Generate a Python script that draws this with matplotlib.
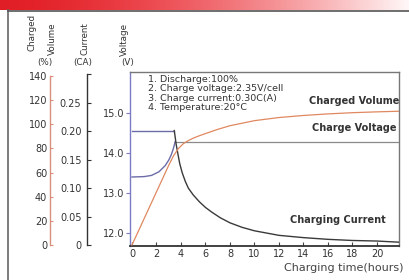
import numpy as np
import matplotlib
matplotlib.use("Agg")
import matplotlib.pyplot as plt

# ---------------- data ----------------
hours_vol = [0, 1, 2, 3, 3.4, 3.8, 4.2, 4.6, 5, 5.5, 6, 7, 8, 10, 12, 14, 16, 18, 20, 21.8]
charged_volume = [0, 22, 44, 66, 74, 80, 84, 86.5, 88.5, 90.5, 92.3, 95.8, 98.8, 103, 105.6, 107.3, 108.6, 109.6, 110.3, 110.8]

hours_cur = [0, 3.45, 3.5, 3.6, 3.75, 3.9, 4.1, 4.35, 4.6, 5.0, 5.5, 6, 6.5, 7.2, 8, 9, 10, 12, 14, 16, 18, 20, 21.8]
charge_current = [0.201, 0.201, 0.194, 0.178, 0.160, 0.143, 0.127, 0.112, 0.100, 0.088, 0.076, 0.066, 0.058, 0.048, 0.039, 0.031, 0.025, 0.017, 0.013, 0.010, 0.008, 0.007, 0.005]

hours_volt = [0, 1.0, 1.6, 2.2, 2.7, 3.0, 3.2, 3.35, 3.45, 3.52]
charge_voltage = [13.4, 13.41, 13.44, 13.53, 13.68, 13.82, 13.95, 14.08, 14.19, 14.28]
plateau_hours = [3.52, 21.8]
plateau_voltage = [14.28, 14.28]

x_ticks = [0, 2, 4, 6, 8, 10, 12, 14, 16, 18, 20]
volt_ticks = [12.0, 13.0, 14.0, 15.0]
cur_ticks = [0, 0.05, 0.10, 0.15, 0.20, 0.25, 0.30]
cur_labels = ["0", "0.05", "0.10", "0.15", "0.20", "0.25", ""]
vol_ticks = [0, 20, 40, 60, 80, 100, 120, 140]

notes = ["1. Discharge:100%", "2. Charge voltage:2.35V/cell",
         "3. Charge current:0.30C(A)", "4. Temperature:20\u00b0C"]

# ---------------- figure ----------------
W, H = 409, 280
fig = plt.figure(figsize=(W / 100, H / 100), dpi=100)
fig.patch.set_facecolor("white")

# red banner
bn = fig.add_axes([0, 1 - 10 / H, 1, 10 / H])
grad = np.linspace(0, 1, 256)
r = np.ones_like(grad)
g = 0.12 + 0.85 * grad ** 1.6
b = 0.15 + 0.82 * grad ** 1.6
img = np.dstack([r * (0.88 + 0.12 * grad), g, b])
bn.imshow(img, aspect="auto", extent=[0, 1, 0, 1])
bn.axis("off")

# frame lines
fig.add_artist(plt.Line2D([8 / W, 8 / W], [0, 1 - 10 / H], transform=fig.transFigure, color="#666666", lw=1.2))
fig.add_artist(plt.Line2D([8 / W, 1], [1 - 11 / H, 1 - 11 / H], transform=fig.transFigure, color="#555555", lw=1.2))

L, R, T, B = 130, 399, 72, 246
ax = fig.add_axes([L / W, 1 - B / H, (R - L) / W, (B - T) / H])
ax.set_xlim(-0.16, 21.8)
ax.set_ylim(11.675, 16.025)

for s in ["top", "right"]:
    ax.spines[s].set_color("#777777")
    ax.spines[s].set_linewidth(1.0)
ax.spines["bottom"].set_color("#333333")
ax.spines["bottom"].set_linewidth(1.3)
ax.spines["left"].set_color("#7c7cc4")
ax.spines["left"].set_linewidth(1.0)

ax.set_xticks(x_ticks)
ax.set_xticklabels([str(v) for v in x_ticks])
ax.tick_params(axis="x", direction="in", length=3, width=0.8, color="#444444",
               labelsize=7, labelcolor="#333333", pad=2)
ax.set_yticks(volt_ticks)
ax.set_yticklabels([f"{v:.1f}" for v in volt_ticks])
ax.tick_params(axis="y", direction="out", length=3, width=0.8, color="#7c7cc4",
               labelsize=7, labelcolor="#333333", pad=1)

# voltage
ax.plot(hours_volt, charge_voltage, color="#6c6ca8", lw=1.0)
ax.plot(plateau_hours, plateau_voltage, color="#8a8a8a", lw=0.9)

# current axis
axc = ax.twinx()
axc.set_ylim(-0.0017, 0.3038)
axc.yaxis.set_ticks_position("left")
axc.spines["left"].set_visible(True)
axc.spines["left"].set_position(("axes", (87 - L) / (R - L)))
axc.spines["left"].set_bounds(0, 0.30)
axc.spines["left"].set_color("#333333")
axc.spines["left"].set_linewidth(1.0)
for s in ["top", "right", "bottom"]:
    axc.spines[s].set_visible(False)
axc.set_yticks(cur_ticks)
axc.set_yticklabels(cur_labels)
axc.tick_params(axis="y", direction="in", length=3, width=0.8, color="#333333",
                labelsize=7, labelcolor="#333333", pad=4)
cur = np.array(charge_current)
hc = np.array(hours_cur)
axc.plot(hc[:2], cur[:2], color="#6c6ca8", lw=1.0)
axc.plot(hc[1:], cur[1:], color="#3a3a3a", lw=1.0)

# volume axis
axv = ax.twinx()
axv.set_ylim(-0.8, 143.3)
axv.yaxis.set_ticks_position("left")
axv.spines["left"].set_visible(True)
axv.spines["left"].set_position(("axes", (50 - L) / (R - L)))
axv.spines["left"].set_bounds(0, 140)
axv.spines["left"].set_color("#d8907c")
axv.spines["left"].set_linewidth(1.0)
for s in ["top", "right", "bottom"]:
    axv.spines[s].set_visible(False)
axv.set_yticks(vol_ticks)
axv.set_yticklabels([str(v) for v in vol_ticks])
axv.tick_params(axis="y", direction="in", length=2.5, width=0.8, color="#d8907c",
                labelsize=7, labelcolor="#333333", pad=2)
axv.plot(hours_vol, charged_volume, color="#e08860", lw=0.9)

# notes
for i, t in enumerate(notes):
    fig.text(148 / W, 1 - (79 + i * 9.6) / H, t, fontsize=6.8, family="DejaVu Sans",
             color="#333333", va="center", ha="left")

fig.text(399 / W, 1 - 101 / H, "Charged Volume", fontsize=7, fontweight="bold",
         color="#333333", ha="right", va="center")
fig.text(397 / W, 1 - 128 / H, "Charge Voltage", fontsize=7, fontweight="bold",
         color="#333333", ha="right", va="center")
fig.text(386 / W, 1 - 220 / H, "Charging Current", fontsize=7, fontweight="bold",
         color="#333333", ha="right", va="center")
fig.text(403 / W, 1 - 268 / H, "Charging time(hours)", fontsize=8,
         color="#444444", ha="right", va="center")

# axis titles
fig.text(32 / W, 1 - 32 / H, "Charged", rotation=90, fontsize=6.3, color="#333333", ha="center", va="center")
fig.text(52 / W, 1 - 39 / H, "Volume", rotation=90, fontsize=6.3, color="#333333", ha="center", va="center")
fig.text(45 / W, 1 - 62 / H, "(%)", fontsize=6.3, color="#333333", ha="center", va="center")
fig.text(85 / W, 1 - 39 / H, "Current", rotation=90, fontsize=6.3, color="#333333", ha="center", va="center")
fig.text(83 / W, 1 - 62 / H, "(CA)", fontsize=6.3, color="#333333", ha="center", va="center")
fig.text(124 / W, 1 - 39 / H, "Voltage", rotation=90, fontsize=6.3, color="#333333", ha="center", va="center")
fig.text(128 / W, 1 - 62 / H, "(V)", fontsize=6.3, color="#333333", ha="center", va="center")

fig.savefig("out.png", dpi=100, facecolor=fig.get_facecolor())
